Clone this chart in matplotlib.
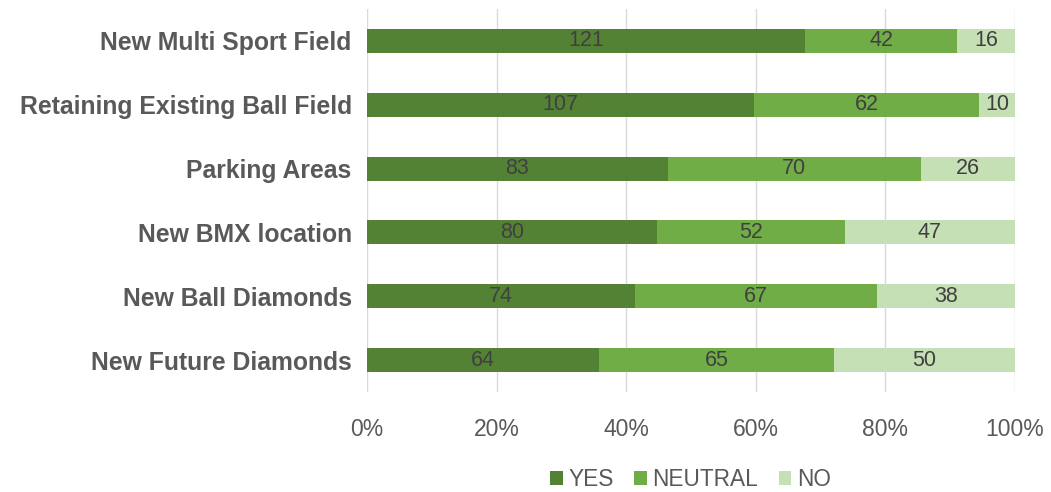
import numpy as np
import matplotlib.pyplot as plt

plt.rcParams['font.family'] = ['Liberation Sans', 'DejaVu Sans']

categories = ['New Multi Sport Field', 'Retaining Existing Ball Field', 'Parking Areas',
              'New BMX location', 'New Ball Diamonds', 'New Future Diamonds']
yes = [121, 107, 83, 80, 74, 64]
neutral = [42, 62, 70, 52, 67, 65]
no = [16, 10, 26, 47, 38, 50]
series = ['YES', 'NEUTRAL', 'NO']
colors = ['#548235', '#70AD47', '#C5E0B4']

data = np.array([yes, neutral, no], dtype=float)
totals = data.sum(axis=0)
pct = data / totals

fig = plt.figure(figsize=(10.51, 4.92), dpi=100)
ax = fig.add_axes([0.3492, 0.2033, 0.6166, 0.7784])

y = np.arange(len(categories))
left = np.zeros(len(categories))
for i, name in enumerate(series):
    bars = ax.barh(y, pct[i], left=left, height=0.375, color=colors[i], label=name, zorder=3)
    for j, b in enumerate(bars):
        ax.text(left[j] + pct[i][j] / 2, y[j], str(int(data[i][j])), ha='center', va='center',
                fontsize=15.5, color='#404040', zorder=4)
    left += pct[i]

ax.set_ylim(len(categories) - 0.5, -0.5)
ax.set_xlim(0, 1)
ax.set_yticks(y)
ax.set_yticklabels(categories, fontsize=17.8, fontweight='bold', color='#595959')
ax.set_xticks(np.linspace(0, 1, 6))
ax.set_xticklabels(['%d%%' % v for v in range(0, 101, 20)], fontsize=16.5, color='#595959')
ax.tick_params(length=0)
ax.tick_params(axis='x', pad=19)
ax.tick_params(axis='y', pad=11)
ax.grid(axis='x', color='#D9D9D9', linewidth=1, zorder=0)
for s in ax.spines.values():
    s.set_visible(False)

fig.legend(loc='center', bbox_to_anchor=(0.657, 0.026), ncol=3, frameon=False,
           fontsize=16.3, handlelength=0.55, handleheight=0.55, handletextpad=0.25,
           columnspacing=0.9, labelcolor='#595959', borderpad=0)

fig.savefig('out.png', dpi=100)
